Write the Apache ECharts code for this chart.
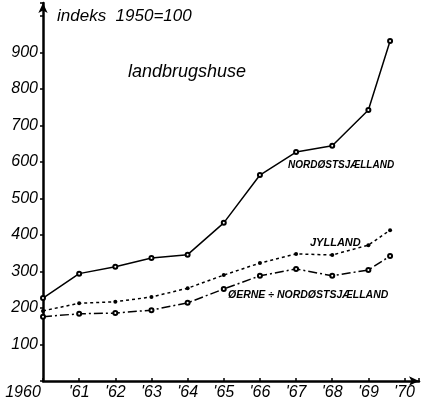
<!DOCTYPE html>
<html>
<head>
<meta charset="UTF-8">
<script src="https://cdn.jsdelivr.net/npm/echarts@6/dist/echarts.min.js"></script>
<style>
  html, body { margin: 0; padding: 0; background: #fff; }
  #chart { width: 422px; height: 406px; }
</style>
</head>
<body>
<div id="chart"></div>
<script>
// years (last point is drawn a bit before 1970 in the original)
const years = [1960, 1961, 1962, 1963, 1964, 1965, 1966, 1967, 1968, 1969, 1969.6];
const nordostsjaelland = [227, 294, 313, 337, 346, 433, 564, 627, 644, 742, 931];
const jylland = [192, 213, 217, 230, 254, 290, 323, 348, 345, 372, 413];
const oerne = [176, 184, 186, 194, 214, 252, 288, 307, 288, 304, 342];
const xTickLabels = ['1960', "'61", "'62", "'63", "'64", "'65", "'66", "'67", "'68", "'69", "'70"];
const yTickLabels = ['100', '200', '300', '400', '500', '600', '700', '800', '900'];

const pairs = vals => years.map((y, i) => [y, vals[i]]);
const font = 'Liberation Sans';

const chart = echarts.init(document.getElementById('chart'));
chart.setOption({
  backgroundColor: '#fff',
  animation: false,
  grid: { left: 43, right: 2, top: 3, bottom: 25 },
  xAxis: {
    type: 'value', min: 1960, max: 1970.4, interval: 1,
    splitLine: { show: false },
    axisLine: { lineStyle: { color: '#000', width: 2.5 }, symbol: ['none', 'arrow'], symbolSize: [7, 10] },
    axisTick: { inside: true, length: 3, lineStyle: { color: '#000', width: 1.5 } },
    axisLabel: {
      color: '#000', fontFamily: font, fontStyle: 'italic', fontSize: 16, margin: 4,
      formatter: v => {
        const i = Math.round(v - 1960);
        if (Math.abs(v - 1960 - i) > 1e-6 || i < 0 || i >= xTickLabels.length) return '';
        return i === 0 ? '{first|' + xTickLabels[0] + '}' : xTickLabels[i];
      },
      rich: { first: { fontFamily: font, fontStyle: 'italic', fontSize: 16, color: '#000', padding: [0, 40, 0, 0] } }
    }
  },
  yAxis: {
    type: 'value', min: 0, max: 1035, interval: 100,
    splitLine: { show: false },
    axisLine: { show: true, lineStyle: { color: '#000', width: 2.5 }, symbol: ['none', 'arrow'], symbolSize: [7, 10] },
    axisTick: { show: true, length: 3, lineStyle: { color: '#000', width: 1.5 } },
    axisLabel: {
      color: '#000', fontFamily: font, fontStyle: 'italic', fontSize: 16, margin: 5,
      formatter: v => { const i = Math.round(v / 100) - 1; return (v % 100 === 0 && i >= 0 && i < yTickLabels.length) ? yTickLabels[i] : ''; }
    }
  },
  series: [
    {
      name: 'NORDØSTSJÆLLAND', type: 'line', data: pairs(nordostsjaelland),
      symbol: 'emptyCircle', symbolSize: 4,
      lineStyle: { color: '#000', width: 1.5, type: 'solid' },
      itemStyle: { color: '#000', borderWidth: 1.1 }
    },
    {
      name: 'JYLLAND', type: 'line', data: pairs(jylland),
      symbol: 'circle', symbolSize: 4,
      lineStyle: { color: '#000', width: 1.5, type: [3, 3] },
      itemStyle: { color: '#000' }
    },
    {
      name: 'ØERNE ÷ NORDØSTSJÆLLAND', type: 'line', data: pairs(oerne),
      symbol: 'emptyCircle', symbolSize: 4,
      lineStyle: { color: '#000', width: 1.5, type: [9, 3, 2, 3] },
      itemStyle: { color: '#000', borderWidth: 1.1 }
    }
  ],
  graphic: [
    { type: 'text', left: 57, top: 8, style: { text: 'indeks  1950=100', font: 'italic 17px ' + font, fill: '#000' } },
    { type: 'text', left: 128, top: 63, style: { text: 'landbrugshuse', font: 'italic 18px ' + font, fill: '#000' } },
    { type: 'text', left: 288, top: 160, style: { text: 'NORDØSTSJÆLLAND', font: 'italic bold 10px ' + font, fill: '#000' } },
    { type: 'text', left: 310, top: 237, style: { text: 'JYLLAND', font: 'italic bold 11px ' + font, fill: '#000' } },
    { type: 'text', left: 228, top: 290, style: { text: 'ØERNE ÷ NORDØSTSJÆLLAND', font: 'italic bold 10.5px ' + font, fill: '#000' } }
  ]
});
</script>
</body>
</html>
